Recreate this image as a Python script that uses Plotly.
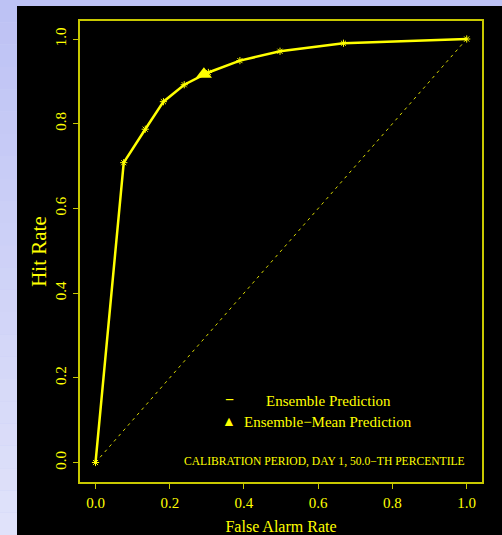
import plotly.graph_objects as go

# ROC data
false_alarm = [0.0, 0.076, 0.134, 0.183, 0.239, 0.304, 0.389, 0.497, 0.668, 1.0]
hit_rate = [0.0, 0.708, 0.787, 0.852, 0.892, 0.921, 0.949, 0.971, 0.990, 1.0]
mean_far = [0.292]
mean_hr = [0.917]
diag = [0.0, 1.0]
tick_vals = [0.0, 0.2, 0.4, 0.6, 0.8, 1.0]
tick_text = ["0.0", "0.2", "0.4", "0.6", "0.8", "1.0"]

W, H = 502, 535
L, R, T, B = 80, 20, 21, 53
pw, ph = W - L - R, H - T - B

YEL = "#ffff00"
FRAME = "#c8c800"
SERIF = "Liberation Serif, Times New Roman, serif"

def px_x(x):
    return (x - L) / pw

def px_y(y):
    return (H - B - y) / ph

fig = go.Figure()
fig.add_trace(go.Scatter(x=diag, y=diag, mode="lines",
                         line=dict(color="#d8d800", width=1, dash="3px,4px"),
                         showlegend=False, hoverinfo="skip"))
fig.add_trace(go.Scatter(x=false_alarm, y=hit_rate, mode="lines+markers",
                         name="Ensemble Prediction",
                         line=dict(color=YEL, width=2.5),
                         marker=dict(symbol="asterisk-open", size=6,
                                     line=dict(color=YEL, width=1)),
                         showlegend=False))
fig.add_trace(go.Scatter(x=mean_far, y=mean_hr, mode="markers",
                         name="Ensemble-Mean Prediction",
                         marker=dict(symbol="triangle-up", size=14, color=YEL),
                         showlegend=False))

shapes = []
# lavender gradient background bands
n = 24
c0 = (189, 194, 244)
c1 = (224, 226, 250)
for i in range(n):
    f = i / (n - 1)
    col = "rgb(%d,%d,%d)" % tuple(round(c0[k] + (c1[k] - c0[k]) * f) for k in range(3))
    y0 = H * i / n
    y1 = H * (i + 1) / n
    shapes.append(dict(type="rect", xref="paper", yref="paper",
                       x0=px_x(0), x1=px_x(W), y0=px_y(y1), y1=px_y(y0),
                       fillcolor=col, line=dict(width=0), layer="below"))
# black panel
shapes.append(dict(type="rect", xref="paper", yref="paper",
                   x0=px_x(17), x1=px_x(W), y0=px_y(H), y1=px_y(6),
                   fillcolor="black", line=dict(width=0), layer="below"))

dy = 10
annotations = [
    dict(xref="paper", yref="paper", x=px_x(229), y=px_y(400 + dy), text="<b>−</b>",
         showarrow=False, font=dict(family=SERIF, size=16, color=YEL)),
    dict(xref="paper", yref="paper", x=px_x(328), y=px_y(401 + dy), text="Ensemble Prediction",
         showarrow=False, font=dict(family=SERIF, size=15, color=YEL)),
    dict(xref="paper", yref="paper", x=px_x(229), y=px_y(421 + dy), text="▲",
         showarrow=False, font=dict(family=SERIF, size=14, color=YEL)),
    dict(xref="paper", yref="paper", x=px_x(328), y=px_y(422 + dy), text="Ensemble−Mean Prediction",
         showarrow=False, font=dict(family=SERIF, size=15, color=YEL)),
    dict(xref="paper", yref="paper", x=px_x(467), y=px_y(461 + dy - 1), xanchor="right",
         text="CALIBRATION PERIOD, DAY 1, 50.0−TH PERCENTILE",
         showarrow=False, font=dict(family=SERIF, size=11.6, color=YEL)),
]

axis_common = dict(showgrid=False, zeroline=False, showline=True, mirror=True,
                   linecolor=FRAME, linewidth=1.5, ticks="outside", ticklen=5,
                   tickwidth=1, tickcolor=FRAME, tickvals=tick_vals, ticktext=tick_text,
                   tickfont=dict(family=SERIF, size=15, color=YEL))

fig.update_layout(
    width=W, height=H,
    margin=dict(l=L, r=R, t=T, b=B, autoexpand=False),
    paper_bgcolor="rgb(200,204,246)",
    plot_bgcolor="black",
    shapes=shapes,
    annotations=annotations,
    xaxis=dict(range=[-0.0418, 1.0412],
               title=dict(text="False Alarm Rate", standoff=16,
                          font=dict(family=SERIF, size=16, color=YEL)),
               ticklabelstandoff=1, **axis_common),
    yaxis=dict(range=[-0.046, 1.0425], tickangle=-90,
               title=dict(text="Hit Rate", standoff=1,
                          font=dict(family=SERIF, size=21, color=YEL)),
               ticklabelstandoff=1, **axis_common),
)

fig.write_html("out.html")
